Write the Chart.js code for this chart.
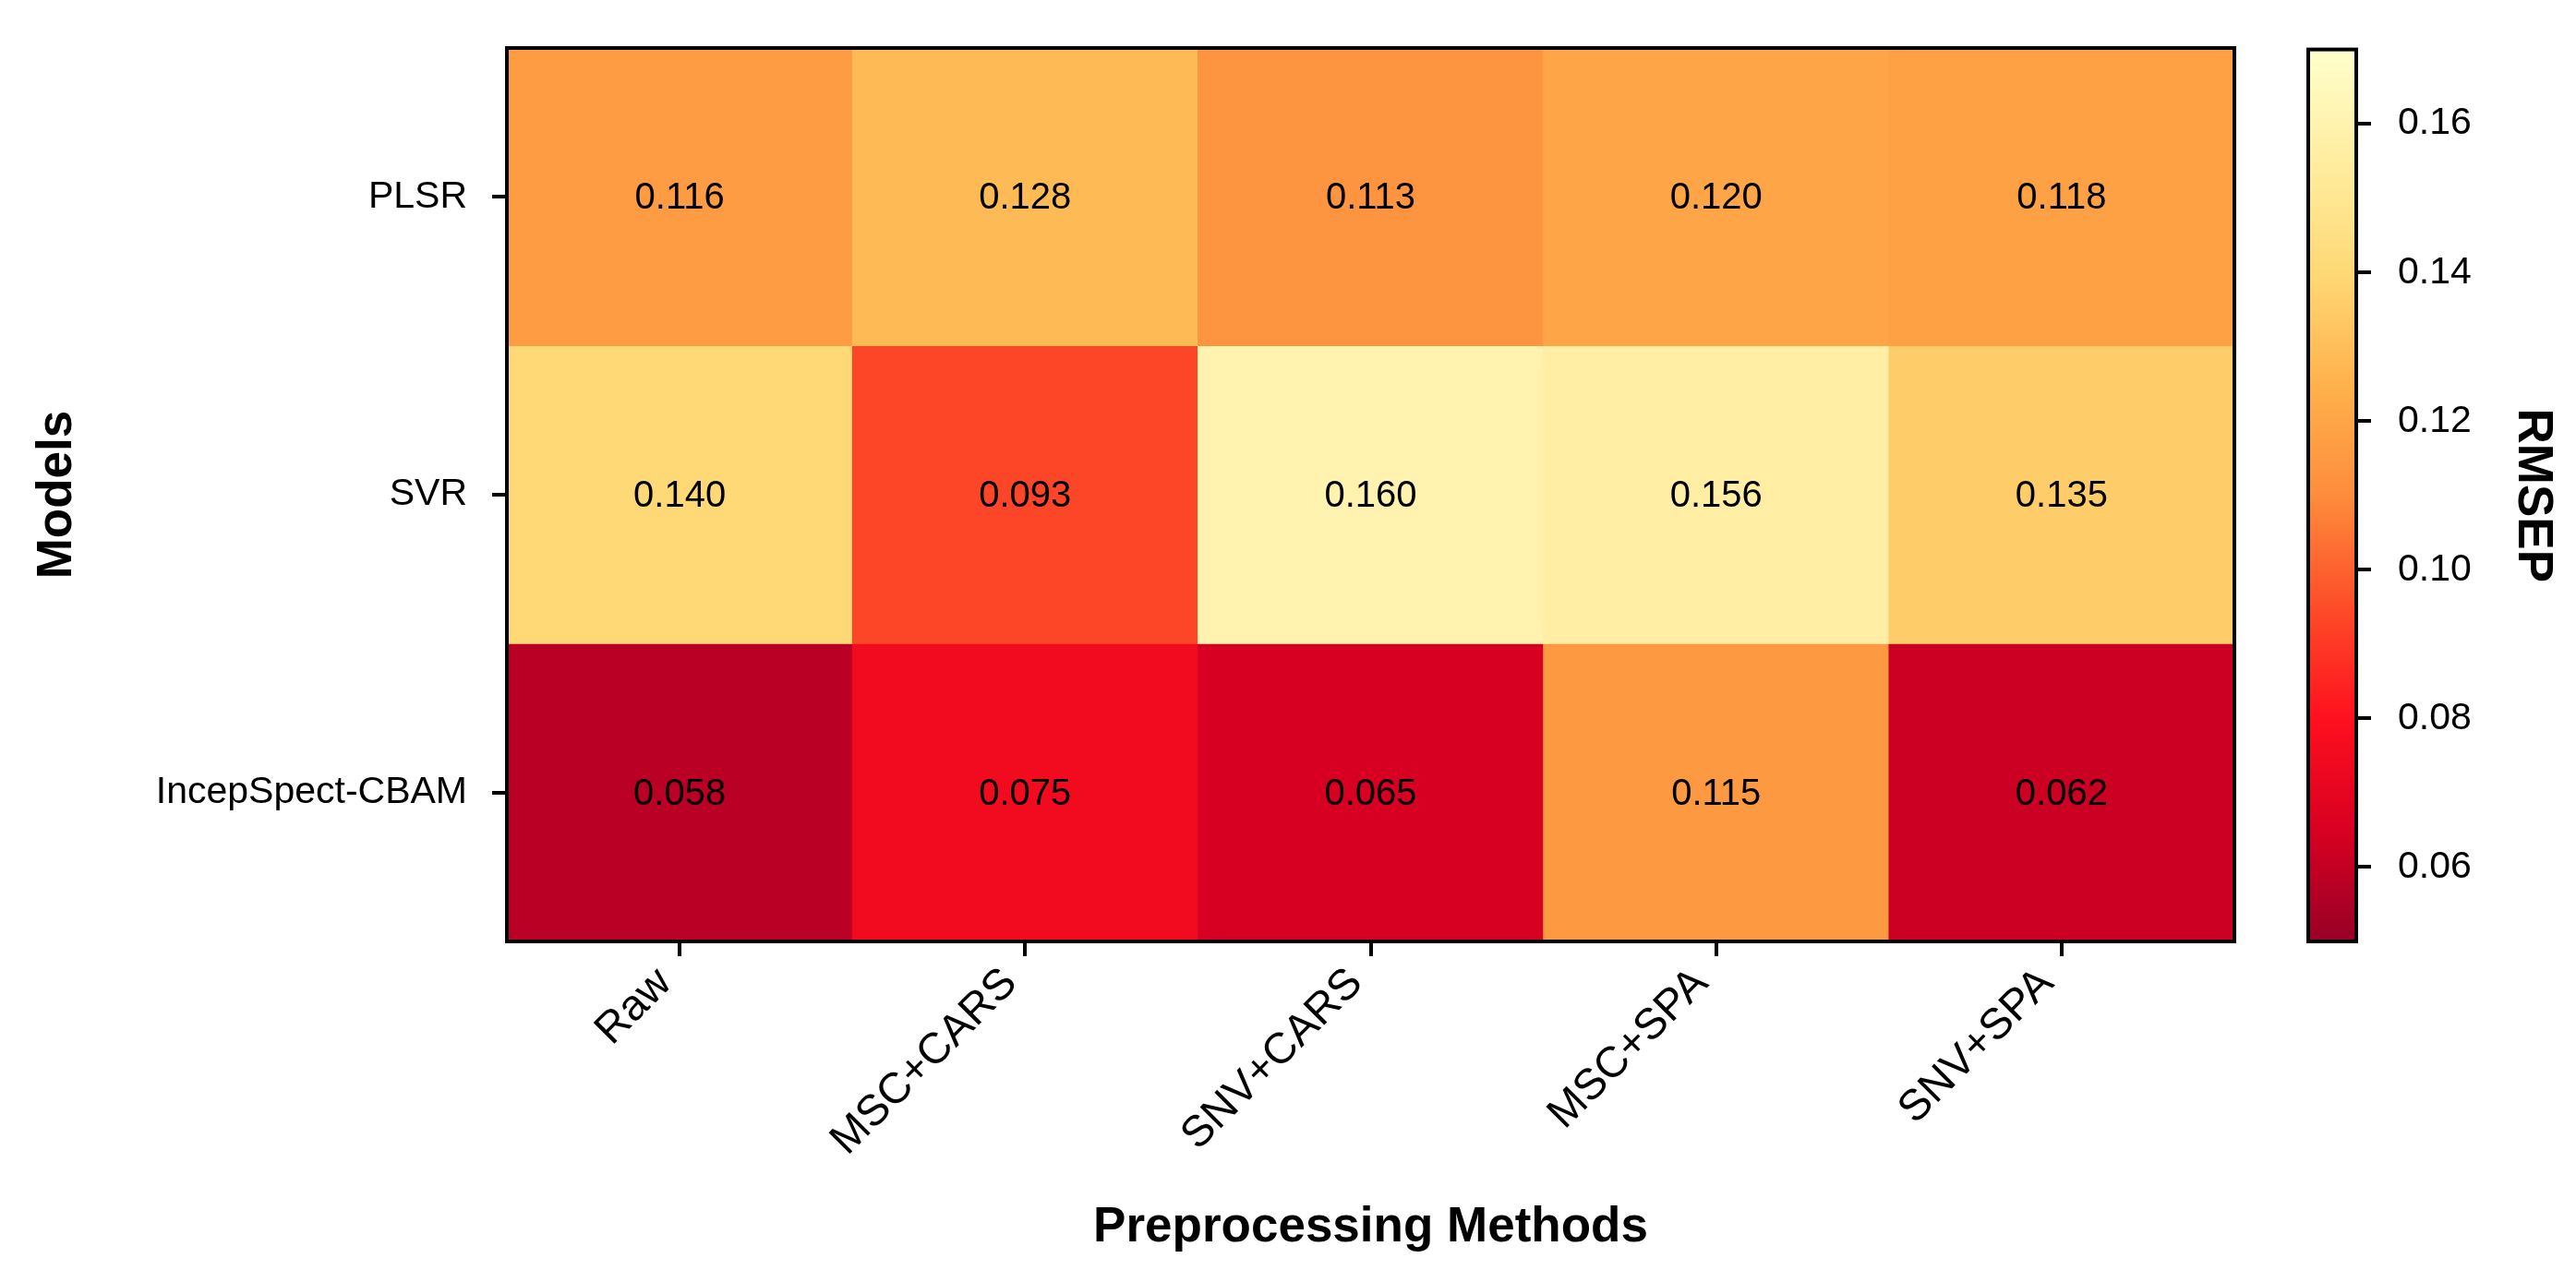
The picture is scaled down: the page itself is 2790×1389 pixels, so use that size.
<!DOCTYPE html>
<html>
<head>
<meta charset="utf-8">
<script src="https://cdn.jsdelivr.net/npm/chart.js@4.4.1/dist/chart.umd.min.js"></script>
<style>
  html, body { margin: 0; padding: 0; background: #fff; }
  #wrap { position: relative; width: 2790px; height: 1389px; }
  #heat { position: absolute; left: 0; top: 0; }
  #cbar { position: absolute; left: 2440px; top: 0; }
</style>
</head>
<body>
<div id="wrap">
  <canvas id="heat" width="2440" height="1389"></canvas>
  <canvas id="cbar" width="350" height="1389"></canvas>
</div>
<script>
const methods = ['Raw', 'MSC+CARS', 'SNV+CARS', 'MSC+SPA', 'SNV+SPA'];
const models = ['PLSR', 'SVR', 'IncepSpect-CBAM'];
const plsr = [0.116, 0.128, 0.113, 0.120, 0.118];
const svr = [0.140, 0.093, 0.160, 0.156, 0.135];
const incep = [0.058, 0.075, 0.065, 0.115, 0.062];
const rows = [plsr, svr, incep];
const cbarTicks = [0.06, 0.08, 0.10, 0.12, 0.14, 0.16];
const vMin = 0.05, vMax = 0.17;

// YlOrRd-like palette as it shows in the picture, used reversed (low = dark red)
const palette = ['#ffffcc', '#ffeda0', '#fed976', '#feb24c', '#fd8d3c', '#fd4d29', '#ff101e', '#d80022', '#980026'];

const FONT = '"Liberation Sans", Arial, sans-serif';

Chart.defaults.color = '#000';
Chart.defaults.font.family = FONT;

function hex(c) {
  return [1, 3, 5].map(i => parseInt(c.slice(i, i + 2), 16));
}

function colorFor(v) {
  let t = 1 - (v - vMin) / (vMax - vMin);
  t = Math.min(1, Math.max(0, t));
  const pos = t * (palette.length - 1);
  const i = Math.min(Math.floor(pos), palette.length - 2);
  const f = pos - i;
  const a = hex(palette[i]), b = hex(palette[i + 1]);
  const rgb = a.map((x, k) => Math.round(x + (b[k] - x) * f));
  return `rgb(${rgb.join(',')})`;
}

const frame = {
  id: 'frame',
  afterDatasetsDraw(chart) {
    const { ctx, chartArea: a } = chart;
    ctx.save();
    ctx.strokeStyle = '#000';
    ctx.lineWidth = 4;
    ctx.strokeRect(a.left, a.top, a.right - a.left, a.bottom - a.top);
    ctx.restore();
  }
};

const cellText = {
  id: 'cellText',
  afterDatasetsDraw(chart) {
    const ctx = chart.ctx;
    ctx.save();
    ctx.font = '40px ' + FONT;
    ctx.fillStyle = '#000';
    ctx.textAlign = 'center';
    ctx.textBaseline = 'middle';
    chart.data.datasets.forEach((ds, i) => {
      chart.getDatasetMeta(i).data.forEach((bar, j) => {
        const c = bar.getCenterPoint();
        ctx.fillText(ds.values[j].toFixed(3), c.x, c.y + 2);
      });
    });
    ctx.restore();
  }
};

const tickGrid = {
  drawOnChartArea: false,
  drawTicks: true,
  tickLength: 16,
  tickWidth: 4,
  color: '#000',
  lineWidth: 4
};

const titleFont = { size: 53, weight: 'bold' };

new Chart(document.getElementById('heat'), {
  type: 'bar',
  data: {
    labels: methods,
    datasets: rows.map((vals, i) => {
      const base = models.length - 1 - i;
      return {
        label: models[i],
        values: vals,
        data: vals.map(() => [base, base + 1]),
        backgroundColor: vals.map(colorFor),
        borderWidth: 0,
        grouped: false,
        barPercentage: 1,
        categoryPercentage: 1
      };
    })
  },
  options: {
    responsive: false,
    animation: false,
    devicePixelRatio: 1,
    layout: { padding: { top: 52, right: 20, left: 0, bottom: 0 } },
    plugins: { legend: { display: false }, tooltip: { enabled: false } },
    scales: {
      x: {
        grid: { ...tickGrid, offset: false },
        border: { display: false },
        ticks: { font: { size: 47 }, minRotation: 45, maxRotation: 45, padding: 2, labelOffset: -16 },
        title: {
          display: true, text: 'Preprocessing Methods',
          font: titleFont,
          padding: { bottom: 27 }
        },
        afterFit: s => { s.height = 369; }
      },
      y: {
        min: 0, max: models.length,
        grid: tickGrid,
        border: { display: false },
        afterBuildTicks: s => {
          s.ticks = models.map((m, i) => ({ value: models.length - 1 - i + 0.5 }));
        },
        ticks: {
          font: { size: 41 }, padding: 27,
          callback: v => models[models.length - 1 - Math.floor(v)]
        },
        title: {
          display: true, text: 'Models',
          font: titleFont,
          padding: { top: 31 }
        },
        afterFit: s => { s.width = 549; }
      }
    }
  },
  plugins: [cellText, frame]
});

new Chart(document.getElementById('cbar'), {
  type: 'bar',
  data: {
    labels: ['RMSEP'],
    datasets: [{
      data: [[vMin, vMax]],
      backgroundColor: ctx => {
        const a = ctx.chart.chartArea;
        if (!a) return colorFor(vMin);
        const g = ctx.chart.ctx.createLinearGradient(0, a.bottom, 0, a.top);
        palette.slice().reverse().forEach((c, i) => g.addColorStop(i / (palette.length - 1), c));
        return g;
      },
      borderWidth: 0,
      barPercentage: 1,
      categoryPercentage: 1
    }]
  },
  options: {
    responsive: false,
    animation: false,
    devicePixelRatio: 1,
    layout: { padding: { top: 52, right: 0, left: 60, bottom: 369 } },
    plugins: { legend: { display: false }, tooltip: { enabled: false } },
    scales: {
      x: { display: false },
      y: {
        position: 'right',
        min: vMin, max: vMax,
        grid: tickGrid,
        border: { display: false },
        afterBuildTicks: s => { s.ticks = cbarTicks.map(v => ({ value: v })); },
        ticks: { font: { size: 41 }, padding: 29, callback: v => v.toFixed(2) },
        title: {
          display: true, text: 'RMSEP',
          font: titleFont,
          padding: { top: 16 }
        },
        afterFit: s => { s.width = 238; }
      }
    }
  },
  plugins: [frame]
});
</script>
</body>
</html>
